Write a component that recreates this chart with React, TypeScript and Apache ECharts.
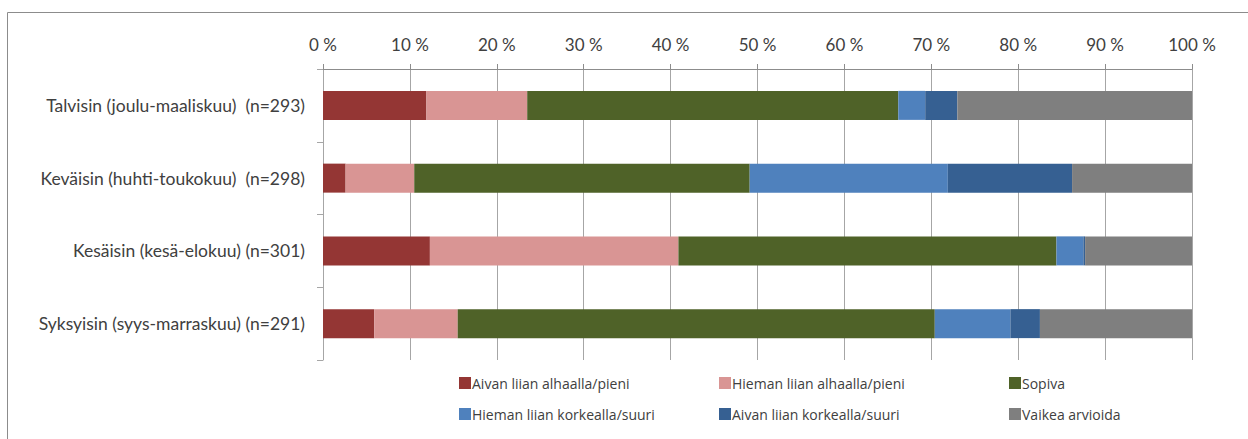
import React, { useEffect, useRef } from "react";
import * as echarts from "echarts";

const categories = [
  "Talvisin (joulu-maaliskuu)  (n=293)",
  "Keväisin (huhti-toukokuu)  (n=298)",
  "Kesäisin (kesä-elokuu) (n=301)",
  "Syksyisin (syys-marraskuu) (n=291)",
];

const seriesNames = [
  "Aivan liian alhaalla/pieni",
  "Hieman liian alhaalla/pieni",
  "Sopiva",
  "Hieman liian korkealla/suuri",
  "Aivan liian korkealla/suuri",
  "Vaikea arvioida",
];

const aivanAlhaalla = [11.9, 2.6, 12.3, 5.9];
const hiemanAlhaalla = [11.6, 7.9, 28.6, 9.6];
const sopiva = [42.7, 38.6, 43.5, 54.9];
const hiemanKorkealla = [3.1, 22.8, 3.1, 8.7];
const aivanKorkealla = [3.7, 14.3, 0.2, 3.4];
const vaikea = [27.0, 13.8, 12.3, 17.5];

const seriesValues = [aivanAlhaalla, hiemanAlhaalla, sopiva, hiemanKorkealla, aivanKorkealla, vaikea];
const colors = ["#943634", "#D99594", "#4F6228", "#4F81BD", "#366092", "#7F7F7F"];

const legendPos = [
  { left: 459, top: 374 },
  { left: 719, top: 374 },
  { left: 1009, top: 374 },
  { left: 459, top: 405 },
  { left: 719, top: 405 },
  { left: 1009, top: 405 },
];

export default function App() {
  const ref = useRef<HTMLDivElement>(null);
  useEffect(() => {
    if (!ref.current) return;
    const chart = echarts.init(ref.current, null, { renderer: "svg" });
    const font = "Lato, 'Open Sans', sans-serif";
    const legendFont = "'Open Sans', Lato, sans-serif";
    chart.setOption({
      animation: false,
      backgroundColor: "#ffffff",
      textStyle: { fontFamily: font },
      graphic: [
        {
          type: "rect",
          shape: { x: 7.5, y: 12.5, width: 1300, height: 500 },
          style: { fill: "none", stroke: "#8c8c8c", lineWidth: 1 },
          silent: true,
        },
      ],
      legend: seriesNames.map((n, i) => ({
        data: [n],
        left: legendPos[i].left,
        top: legendPos[i].top,
        icon: "rect",
        itemWidth: 12,
        itemHeight: 12,
        itemGap: 3,
        padding: 0,
        selectedMode: false,
        textStyle: {
          color: "#404040",
          fontSize: 14,
          lineHeight: 18,
          fontFamily: legendFont,
          padding: [0, 0, 0, -4],
        },
      })),
      grid: { left: 323, right: 56, top: 69, bottom: 79, containLabel: false },
      xAxis: {
        type: "value",
        position: "top",
        min: 0,
        max: 100,
        interval: 10,
        axisLine: { show: true, lineStyle: { color: "#8c8c8c", width: 1 } },
        axisTick: { show: true, length: 5, lineStyle: { color: "#8c8c8c" } },
        axisLabel: {
          formatter: "{value} %",
          color: "#404040",
          fontSize: 17,
          fontFamily: font,
          margin: 16,
        },
        splitLine: { show: true, lineStyle: { color: "#a6a6a6", width: 1 } },
      },
      yAxis: {
        type: "category",
        inverse: true,
        data: categories,
        axisLine: { show: true, lineStyle: { color: "#a6a6a6", width: 1 } },
        axisTick: { show: true, length: 6, alignWithLabel: false, lineStyle: { color: "#a6a6a6" } },
        axisLabel: { color: "#404040", fontSize: 17.5, fontFamily: font, margin: 18 },
        splitLine: { show: false },
      },
      series: seriesNames.map((n, i) => ({
        name: n,
        type: "bar",
        stack: "total",
        barWidth: 29,
        data: seriesValues[i],
        itemStyle: { color: colors[i] },
      })),
    });
    return () => chart.dispose();
  }, []);
  return (
    <div
      ref={ref}
      style={{ position: "fixed", left: 0, top: 0, width: 1248, height: 439 }}
    />
  );
}
